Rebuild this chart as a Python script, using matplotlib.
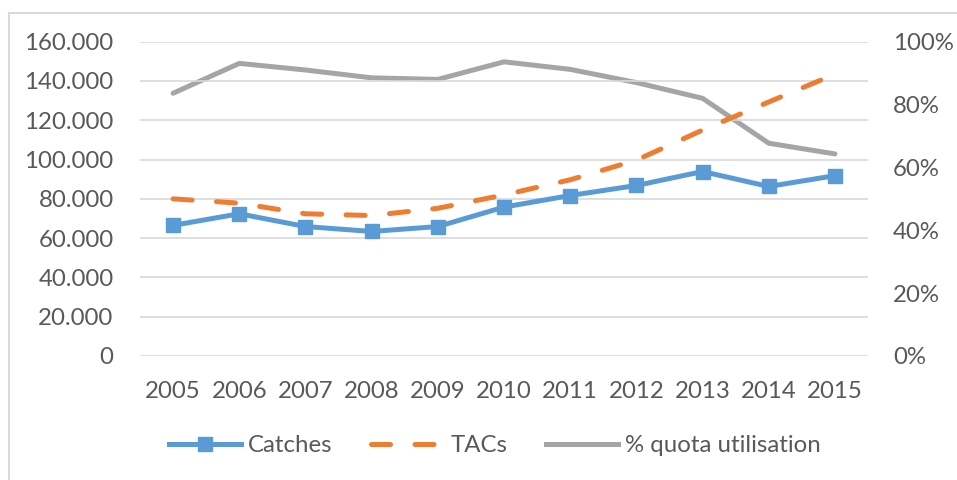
import matplotlib
matplotlib.use('Agg')
import matplotlib.pyplot as plt
from matplotlib.patches import Rectangle
from matplotlib.ticker import FuncFormatter

# dados
anos = ['2005', '2006', '2007', '2008', '2009', '2010', '2011', '2012', '2013', '2014', '2015']
catches = [66500, 72400, 65900, 63400, 65900, 75800, 81700, 86800, 93900, 86300, 91800]
tacs = [80000, 77800, 72400, 71500, 75200, 82000, 89700, 99700, 115000, 129300, 143500]
quota_pct = [83.6, 93.1, 91.0, 88.5, 88.0, 93.6, 91.2, 87.0, 82.0, 67.7, 64.3]

azul = '#5B9BD5'
laranja = '#ED7D31'
cinza = '#A5A5A5'
texto = '#595959'
grade = '#D9D9D9'
fs = 17.3

plt.rcParams['font.family'] = ['Lato', 'DejaVu Sans']
plt.rcParams['font.size'] = fs

fig = plt.figure(figsize=(9.57, 4.8), dpi=100)
ax = fig.add_axes([140 / 957, 1 - 356 / 480, (868 - 140) / 957, (356 - 41.7) / 480])
ax2 = ax.twinx()

# eixo secundário atrás do principal
ax.set_zorder(2)
ax2.set_zorder(1)
ax.patch.set_visible(False)

x = list(range(len(anos)))

ax2.plot(x, quota_pct, color=cinza, linewidth=3.6, solid_capstyle='round', solid_joinstyle='round')
ln_c, = ax.plot(x, catches, color=azul, linewidth=3.6, marker='s', markersize=9.5,
                solid_joinstyle='round', zorder=4)
ln_t, = ax.plot(x, tacs, color=laranja, linewidth=3.6, dashes=(3.8, 4.9),
                dash_capstyle='round', zorder=3)

ax.set_xlim(-0.5, len(anos) - 0.5)
ax.set_ylim(0, 160000)
ax.set_yticks(range(0, 160001, 20000))
ax.yaxis.set_major_formatter(FuncFormatter(lambda v, p: f'{int(v):,}'.replace(',', '.')))
ax2.set_ylim(0, 100)
ax2.set_yticks(range(0, 101, 20))
ax2.yaxis.set_major_formatter(FuncFormatter(lambda v, p: f'{int(v)}%'))

ax.set_xticks(x)
ax.set_xticklabels(anos)

ax.grid(axis='y', color=grade, linewidth=1.2)
ax.set_axisbelow(True)
for a in (ax, ax2):
    for s in a.spines.values():
        s.set_visible(False)
ax.tick_params(axis='both', length=0, colors=texto, labelsize=fs)
ax.tick_params(axis='y', pad=19)
ax.tick_params(axis='x', pad=18)
ax2.tick_params(axis='y', length=0, colors=texto, labelsize=fs, pad=18)

# legenda
ln_q, = ax.plot([], [], color=cinza, linewidth=3.6)
fig.legend([ln_c, ln_t, ln_q], ['Catches', 'TACs', '% quota utilisation'],
           loc='center', bbox_to_anchor=(0.517, 1 - 446 / 480), ncol=3, frameon=False,
           handlelength=3.0, handletextpad=0.3, columnspacing=1.6, labelcolor=texto,
           fontsize=fs)

# moldura do gráfico
fig.patches.append(Rectangle((8.5 / 957, -0.05), 1.2, 1 - 12.5 / 480 + 0.05,
                             transform=fig.transFigure, fill=False,
                             edgecolor=grade, linewidth=1.5))

fig.savefig('out.png', dpi=100)
